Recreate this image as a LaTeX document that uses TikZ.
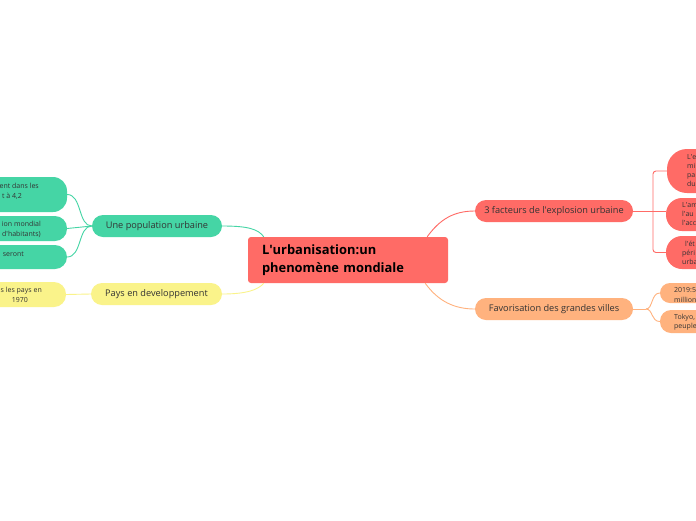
\documentclass[tikz,border=0pt]{standalone}
\usepackage{fontspec}
\setmainfont{Open Sans}
\usetikzlibrary{calc}
\definecolor{cred}{HTML}{FF6B66}
\definecolor{cgreen}{HTML}{45D5A5}
\definecolor{cyellow}{HTML}{FAF38A}
\definecolor{corange}{HTML}{FFB27E}
\definecolor{ctext}{HTML}{333333}
\newcommand{\ap}{\textquotesingle}
\begin{document}
\begin{tikzpicture}[x=1pt,y=-1pt,
  central/.style={fill=cred, rounded corners=3pt, minimum width=200pt, minimum height=46pt,
    text width=172pt, align=left, inner xsep=14pt, inner ysep=0pt, text=black,
    font=\fontsize{12.9}{18.5}\selectfont\bfseries},
  pill/.style={rounded corners=11pt, minimum height=22pt, inner sep=0pt, text=ctext,
    font=\fontsize{9.2}{10}\selectfont},
  leafbox/.style={inner sep=0pt},
  ltext/.style={inner sep=0pt, text=ctext, font=\fontsize{7}{10}\selectfont},
  rtext/.style={inner sep=0pt, text=ctext, font=\fontsize{7}{9}\selectfont, align=left, anchor=west},
  conn/.style={line width=0.9pt}
]
\useasboundingbox (0,0) rectangle (696,520);
\clip (0,0) rectangle (696,520);
\fill[white] (0,0) rectangle (696,520);

% central
\node[central] (c) at (348,260) {\raisebox{-1pt}{L\ap urbanisation:un}\\phenomène mondiale};

% main branches
\node[pill, fill=cred, minimum width=158pt] (fact) at (554,211) {3 facteurs de l\ap explosion urbaine};
\node[pill, fill=corange, minimum width=158pt] (fav) at (554,309) {Favorisation des grandes villes};
\node[pill, fill=cgreen, minimum width=130pt] (upop) at (157,226) {Une population urbaine};
\node[pill, fill=cyellow, minimum width=131pt] (pays) at (156.5,294) {Pays en developpement};

% left leaves
\node[leafbox, fill=cgreen, rounded corners=14pt, minimum width=167pt, minimum height=35pt] (gl1) at (-16.5,194.5) {};
\node[leafbox, fill=cgreen, rounded corners=12pt, minimum width=167pt, minimum height=25pt] (gl2) at (-16.5,228.5) {};
\node[leafbox, fill=cgreen, rounded corners=12pt, minimum width=167pt, minimum height=24pt] (gl3) at (-16.5,257) {};
\node[leafbox, fill=cyellow, rounded corners=12pt, minimum width=166pt, minimum height=25pt] (yl1) at (-17,294.5) {};

\node[ltext, anchor=east, align=right] (gl1t) at (39,191) {ent dans les\\t à 4,2\hspace*{17pt}};
\node[ltext, anchor=east, align=right] (gl2t) at (41,229) {ion mondial\\d\ap habitants)};
\node[ltext, anchor=east] (gl3t) at (24,254) {seront};
\node[ltext, anchor=east, align=right] (yl1t) at (42,295) {s les pays en\\1970\hspace*{14pt}};

% right leaves
\node[leafbox, fill=cred, rounded corners=20pt, minimum width=133pt, minimum height=44pt] (rl1) at (733.5,171) {};
\node[leafbox, fill=cred, rounded corners=16pt, minimum width=134pt, minimum height=33pt] (rl2) at (733,214.5) {};
\node[leafbox, fill=cred, rounded corners=16pt, minimum width=134pt, minimum height=33pt] (rl3) at (733,252.5) {};
\node[leafbox, fill=corange, rounded corners=10pt, minimum width=140pt, minimum height=20pt] (ol1) at (730,293) {};
\node[leafbox, fill=corange, rounded corners=11pt, minimum width=140pt, minimum height=23pt] (ol2) at (730,321.5) {};

\node[rtext] (rl1t) at (687,171) {L\ap e\\mi\\pa\\du};
\node[rtext] (rl2t) at (682,214.5) {L\ap am\\l\ap au\\l\ap acc};
\node[rtext] (rl3t) at (682,252.5) {\hspace*{3pt}l\ap ét\\péri\\urba};
\node[rtext, font=\fontsize{7}{10}\selectfont] (ol1t) at (674,295) {2019:5\\million};
\node[rtext] (ol2t) at (674,322.5) {Tokyo,\\peuple};

% connectors from central
\draw[conn, cgreen] (upop.east) .. controls (248,226) and (258,229) .. ([xshift=16pt]c.north west);
\draw[conn, cyellow] (pays.east) .. controls (246,294) and (258,290) .. ([xshift=16pt]c.south west);
\draw[conn, cred] ([xshift=-21pt]c.north east) .. controls (440,219) and (454,211) .. (fact.west);
\draw[conn, corange] ([xshift=-23pt]c.south east) .. controls (438,301) and (454,309) .. (fav.west);

% left brackets
\draw[conn, cgreen] (gl1.east) .. controls (82,194.5) and (78,226) .. (upop.west);
\draw[conn, cgreen] (gl2.east) -- (upop.west);
\draw[conn, cgreen] (gl3.east) .. controls (82,257) and (78,226) .. (upop.west);
\draw[conn, cyellow] (yl1.east) -- (pays.west);

% right brackets
\coordinate (rj) at (653,211);
\draw[conn, cred] (fact.east) -- (fact.east -| rl2.west);
\draw[conn, cred, rounded corners=3pt] (rl1.west) -| (rj) |- (rl3.west);
\coordinate (oj) at (646,309);
\draw[conn, corange] (fav.east) -- (oj);
\draw[conn, corange] (oj) .. controls (653,309) and (651,293) .. (ol1.west);
\draw[conn, corange] (oj) .. controls (653,309) and (651,321.5) .. (ol2.west);
\end{tikzpicture}
\end{document}
